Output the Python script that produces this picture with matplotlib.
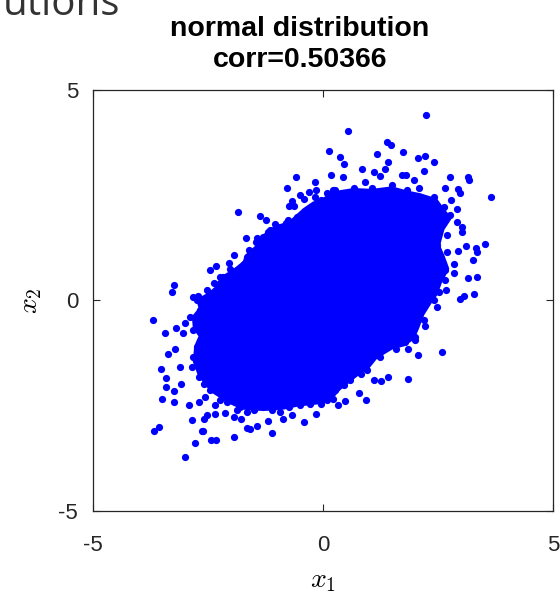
import matplotlib
matplotlib.use("Agg")
import matplotlib.pyplot as plt
import numpy as np

# outline of the dense core of the cloud (x1, x2)
core_x1 = [0.00, 0.27, 0.67, 1.07, 1.50, 1.83, 2.10, 2.45, 2.60, 2.75, 2.60, 2.50,
           2.60, 2.70, 2.55, 2.45, 2.35, 2.15, 2.05, 1.95, 1.75, 1.50, 1.15, 0.95,
           0.75, 0.55, 0.35, 0.15, -0.05, -0.30, -0.55, -0.85, -1.15, -1.45,
           -1.75, -2.05, -2.40, -2.55, -2.68, -2.78, -2.75, -2.65, -2.78, -2.80,
           -2.65, -2.70, -2.45, -2.25, -2.15, -1.90, -1.70, -1.65, -1.40, -1.30,
           -1.10, -0.90, -0.70, -0.55, -0.40, -0.20]
core_x2 = [2.38, 2.55, 2.62, 2.60, 2.66, 2.56, 2.50, 2.38, 2.15, 1.95, 1.70, 1.30,
           1.05, 0.75, 0.45, 0.15, 0.00, -0.35, -0.65, -0.90, -1.05, -1.12, -1.35,
           -1.62, -1.75, -1.92, -2.10, -2.35, -2.42, -2.45, -2.48, -2.55, -2.58,
           -2.58, -2.55, -2.40, -2.15, -1.95, -1.75, -1.45, -1.10, -0.85, -0.65,
           -0.40, -0.20, 0.00, 0.15, 0.35, 0.55, 0.72, 0.90, 1.05, 1.30, 1.50,
           1.68, 1.77, 1.85, 2.00, 2.15, 2.30]

# single points around the core
pts_x1 = [2.24, 1.40, 1.48, 1.74, 2.23, 2.06, 2.41, 1.42, 2.20, 1.72, 1.80, 1.98,
          2.77, 3.16, 3.17, 3.65, 2.66, 2.93, 2.97, 2.79, 3.03, 0.55, 0.13, 1.17,
          0.37, 0.45, 0.18, 0.44, 0.86, 1.12, 1.36, 1.25, 3.11, 3.53, 3.32, 3.34,
          3.27, 3.34, 3.15, 3.28, 3.06, 2.99, 3.03, 2.94, 2.70, 2.68, 2.49, 2.23,
          2.58, 2.07, 2.00, 1.84, 1.42, 1.85, 1.25, 1.12, 1.27, 0.78, 0.93, 0.48,
          0.34, -2.60, -2.42, -2.32, -1.92, -1.11, -1.58, -1.65, -1.42, -1.20,
          -0.41, -2.13, -1.92, -1.77, -2.52, -2.34, -0.87, -0.68, -0.14, -1.93,
          -2.46, -2.32, -3.23, -3.27, -2.81, -2.71, -3.70, -3.42, -3.20, -2.99,
          -3.03, -3.22, -3.37, -3.52, -3.10, -3.41, -3.40, -3.23, -3.08, -3.49,
          -3.23, -2.90, -2.84, -2.63, -3.66, -3.55, -2.78, -3.00, -2.35, -2.58,
          -2.68, -1.84, -2.04, -0.59, -0.16, -0.77, -0.49, -0.40, -0.30, -0.14,
          -0.17, -0.66, -0.73, -0.62, -1.37, -1.23, -1.04, -1.20, -0.96, -1.66,
          -1.43, -1.45, -1.60, -1.45, -2.01, -2.52, -0.29, 0.09, 0.23, -0.76,
          -0.81, 0.27, 0.67, 0.92, 1.07, 1.50, 1.83, 2.08, 2.12, 2.41, 2.48, 2.63,
          2.92, 2.77, 2.92, 2.52, 2.48, 2.45, 2.70, 2.84, 2.66, 2.84, 2.41, 2.66,
          2.52, 2.34, 2.41, 2.12, 2.19, 1.90, 2.01, 1.79, 1.58, 1.40, 1.07, 0.96,
          0.82, 0.60, 0.45, 0.27, 0.23, -2.08, -1.87, -1.65, -1.50, -1.29, -1.10,
          -0.92, -0.74, -0.49, -0.27, -0.05, 0.09, -2.73, -2.66, -2.63, -2.73,
          -2.81, -2.84, -2.70, -2.59, -2.45, -2.55, -2.23, -1.79, -2.37, -2.23,
          -2.16, -2.45, -2.88, -2.81, -0.05, 0.09, -0.56, -0.71, -0.92, -1.14,
          -1.29, -1.36, -1.65, -1.72, -1.87, -2.16, -2.23]
pts_x2 = [4.40, 3.77, 3.69, 3.53, 3.43, 3.38, 3.29, 3.29, 3.08, 2.99, 2.99, 2.87,
          2.92, 2.92, 2.85, 2.45, 2.67, 2.64, 2.54, 2.38, 1.75, 4.02, 3.56, 3.49,
          3.41, 3.23, 2.98, 2.94, 3.12, 3.06, 3.12, 2.96, 1.30, 1.35, 1.25, 1.14,
          0.95, 0.55, 0.52, 0.14, 0.11, 0.02, 1.62, 1.17, 1.56, 0.25, -0.17, -0.61,
          -1.24, -1.29, -0.94, -1.17, -1.83, -1.87, -1.36, -1.90, -1.92, -2.21,
          -2.37, -2.39, -2.48, -3.10, -3.33, -3.33, -3.25, -3.16, -3.05, -3.04,
          -2.99, -2.88, -2.90, -2.67, -2.78, -2.82, -2.74, -2.70, -2.83, -2.74,
          -2.71, 1.08, 0.71, 0.81, 0.36, 0.19, 0.08, 0.11, -0.48, -0.77, -0.65,
          -0.54, -0.79, -1.17, -1.28, -1.64, -1.59, -1.86, -2.06, -2.15, -2.00,
          -2.34, -2.43, -2.49, -2.85, -3.10, -3.10, -3.01, -3.40, -3.73, -2.48,
          -2.82, -2.43, 2.11, 0.89, 2.94, 2.82, 2.68, 2.50, 2.42, 2.58, 2.62, 2.45,
          2.36, 2.24, 2.24, 2.00, 1.92, 1.81, 1.63, 1.60, 1.47, 1.48, 1.38, 1.19,
          1.15, 0.75, 0.25, 2.14, 2.54, 2.62, 1.92, 1.84, 2.62, 2.68, 2.82, 2.66,
          2.74, 2.62, 2.66, 2.46, 2.46, 2.22, 2.22, 2.18, 2.02, 1.86, 1.75, 1.31,
          1.03, 1.15, 0.87, 0.71, 0.64, 0.48, 0.48, 0.20, 0.16, 0.00, -0.32, -0.48,
          -0.71, -0.87, -0.99, -1.15, -1.11, -1.35, -1.67, -1.75, -1.90, -2.02,
          -2.14, -2.34, -2.42, -2.62, -2.66, -2.62, -2.54, -2.62, -2.66, -2.54,
          -2.50, -2.46, -2.46, -2.38, 0.00, -0.24, -0.87, -1.11, -1.35, -1.59,
          -1.83, -1.98, -2.14, -2.30, -2.38, -2.54, 0.40, 0.55, 0.32, -0.08,
          -0.40, -0.71, 2.38, 2.22, 1.98, 1.83, 1.75, 1.67, 1.51, 1.35, 1.03,
          0.87, 0.71, 0.55, 0.40]

title_lines = ["normal distribution", "corr=0.50366"]
ticks = [-5, 0, 5]

plt.rcParams['mathtext.fontset'] = 'cm'
blue = '#0000ff'
dark = '#262626'

fig = plt.figure(figsize=(5.6, 5.95), dpi=100)
ax = fig.add_axes([0.1655, 0.142, 0.822, 0.7067])

ax.fill(core_x1, core_x2, color=blue, lw=3, joinstyle='round', zorder=2)
ax.plot(pts_x1, pts_x2, 'o', ms=5.2, mec='none', color=blue, zorder=3)

ax.set_xlim(-5, 5)
ax.set_ylim(-5, 5)
ax.set_xticks(ticks)
ax.set_yticks(ticks)
ax.set_xticklabels([str(t) for t in ticks])
ax.set_yticklabels([str(t) for t in ticks])
ax.tick_params(direction='in', length=5, width=0.8, colors=dark,
               labelsize=16, top=True, right=True)
ax.tick_params(axis='x', pad=17.5)
ax.tick_params(axis='y', pad=10.5)
for lab in ax.get_xticklabels() + ax.get_yticklabels():
    lab.set_fontfamily('Liberation Sans')
for sp in ax.spines.values():
    sp.set_color(dark)
    sp.set_linewidth(0.9)

ax.set_xlabel(r'$x_1$', fontsize=20, labelpad=7)
ax.set_ylabel(r'$x_2$', fontsize=20, labelpad=10)

ax.set_title("\n".join(title_lines), fontsize=20.5, fontweight='bold',
             family='Liberation Sans', linespacing=1.27, pad=16.5, x=0.45)

fig.text(120 / 560, 1 - 15 / 595, "utions", ha='right', va='baseline',
         fontsize=29, family='Open Sans', color='#333333')

fig.savefig('out.png', dpi=100)
